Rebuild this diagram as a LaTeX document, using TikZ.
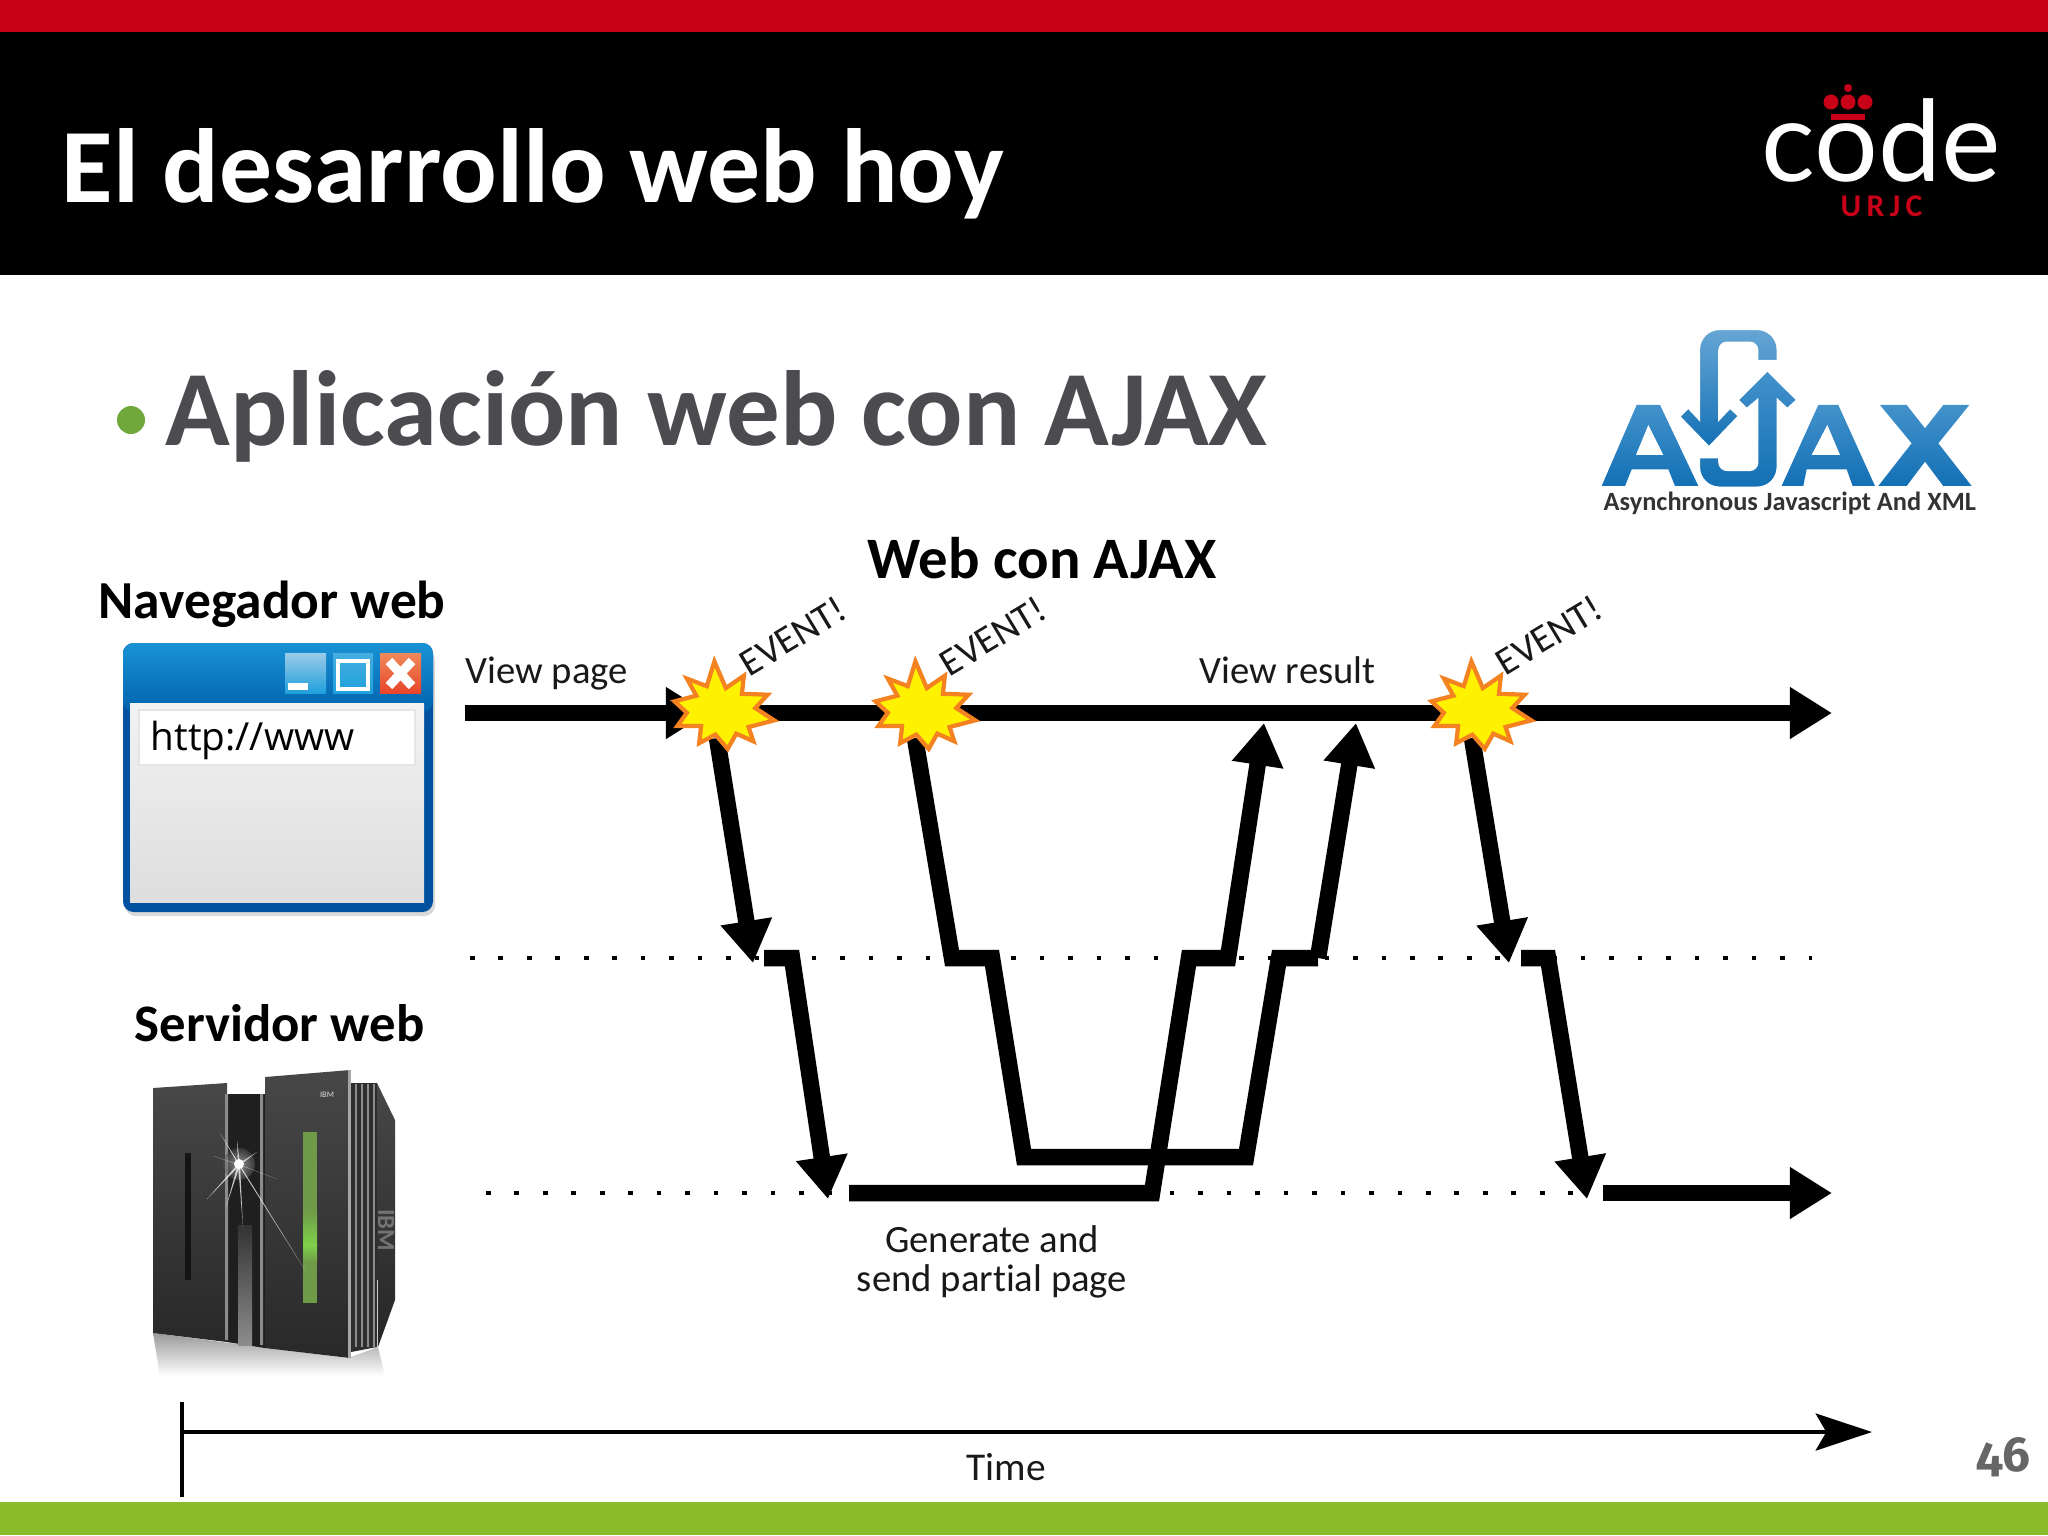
\documentclass[tikz,border=0pt]{standalone}
\usepackage{fontspec}
\setmainfont[Ligatures=NoCommon]{Carlito}
\newfontfamily\browserfont{Open Sans}
\newfontfamily\logofont{Lato}
\newfontfamily\pagefont[Numbers=OldStyle]{Fira Sans}
\usepackage{tikz}
\usetikzlibrary{calc, arrows.meta}

\definecolor{urjcred}{HTML}{C80018}
\definecolor{barblue}{HTML}{0052A0}
\definecolor{ajaxblue}{HTML}{1476BE}
\definecolor{slidegreen}{HTML}{8ABB2A}
\definecolor{slidegrey}{HTML}{4B4B50}
\definecolor{bulletgreen}{HTML}{70A83C}
\definecolor{starorange}{HTML}{F58220}
\definecolor{staryellow}{HTML}{FFF200}
\definecolor{wintop}{HTML}{1A92D4}
\definecolor{winbot}{HTML}{0062AE}
\definecolor{mintop}{HTML}{9CCBE8}
\definecolor{btnbot}{HTML}{1FA0DC}
\definecolor{maxtop}{HTML}{45AEE0}
\definecolor{closetop}{HTML}{EF8A5A}
\definecolor{closebot}{HTML}{E8452A}
\definecolor{ledgreen}{HTML}{6F9A48}
\definecolor{ledbright}{HTML}{7FD04A}

\tikzset{
    txt/.style={inner sep=0pt, anchor=base west},
    flowtext/.style={inner sep=0pt, text=black!90, font=\fontsize{11pt}{11pt}\selectfont},
    headtext/.style={txt, font=\fontsize{15.2pt}{16pt}\selectfont\bfseries},
    eventtext/.style={flowtext, rotate=31, font=\fontsize{11pt}{11pt}\selectfont},
    flow/.style={line width=4.7pt, -{Triangle[length=12pt,width=14pt]}},
    flowline/.style={line width=4.7pt},
    dotline/.style={line width=1.3pt, dash pattern=on 1.3pt off 6.8pt},
    ajaxpart/.style={top color=ajaxblue!80!white, bottom color=ajaxblue!95!black},
    panel/.style={top color=black!72, middle color=black!58, bottom color=black!84},
    eventstar/.pic={
        \filldraw[fill=staryellow, draw=starorange, line width=1.2pt, miter limit=8, scale=0.95]
            (-8,-49) -- (4,-21) -- (23,-34) -- (21,-15) -- (48,-14) -- (35,0) -- (55,13) -- (28,20)
            -- (33,35) -- (15,27) -- (6,43) -- (-7,28) -- (-24,37) -- (-22,19) -- (-47,19)
            -- (-37,5) -- (-50,-7) -- (-27,-13) -- (-37,-31) -- (-16,-23) -- cycle;
    }
}

\begin{document}
\begin{tikzpicture}[x=0.01cm, y=-0.01cm]
    \useasboundingbox (0,0) rectangle (2048,1535);
    \fill[white] (0,0) rectangle (2048,1535);

    \fill[urjcred] (0,0) rectangle (2048,32);
    \fill[black] (0,32) rectangle (2048,275);
    \fill[slidegreen] (0,1502) rectangle (2048,1535);

    \node[txt, text=white, font=\fontsize{30pt}{32pt}\selectfont\bfseries] (title) at (61,202) {El desarrollo web hoy};

    \fill[urjcred] (1848,88) circle (4);
    \fill[urjcred] (1831,102) circle (7.5) (1848,102) circle (7.5) (1865,102) circle (7.5);
    \fill[urjcred] (1831,114) rectangle (1865,120);
    \node[txt, text=white, font=\fontsize{32pt}{33pt}\logofont] (code) at (1761,181) {code};
    \node[txt, text=urjcred, font=\fontsize{9pt}{9pt}\bfseries] (urjc) at (1840,216) {U\,R\,J\,C};

    \fill[bulletgreen] (131,420) circle (14);
    \node[txt, text=slidegrey, font=\fontsize{30.4pt}{32pt}\selectfont\bfseries] (bullet) at (165,445) {Aplicación web con AJAX};

    \begin{scope}[shift={(1560,60)}, scale=0.3333]
        \shade[ajaxpart] (125,1278) -- (230,1035) -- (300,1035) -- (415,1278) -- (345,1278) -- (325,1228)
            -- (215,1228) -- (195,1278) -- cycle;
        \fill[white] (228,1185) -- (265,1095) -- (310,1185) -- cycle;
        \shade[ajaxpart] (665,1278) -- (775,1035) -- (835,1035) -- (945,1278) -- (878,1278) -- (860,1228)
            -- (740,1228) -- (730,1278) -- cycle;
        \fill[white] (755,1185) -- (802,1095) -- (840,1185) -- cycle;
        \shade[ajaxpart] (960,1035) -- (1040,1035) -- (1095,1105) -- (1150,1035) -- (1228,1035) -- (1135,1150)
            -- (1235,1278) -- (1150,1278) -- (1095,1205) -- (1040,1278) -- (955,1278) -- (1055,1150) -- cycle;
        \shade[ajaxpart, draw=white, line width=1pt] (415,1190) [rounded corners=6pt] -- (415,1285) -- (655,1285) [sharp corners]
            -- (655,1025) -- (682,1050) -- (715,1020) -- (622,928) -- (530,1020) -- (560,1050) -- (590,1025)
            [rounded corners=2pt] -- (590,1228) -- (480,1228) [sharp corners] -- (480,1190) -- cycle;
        \shade[ajaxpart, top color=ajaxblue!65!white, draw=white, line width=1pt] (415,1072) [rounded corners=6pt] -- (415,805) -- (655,805) [sharp corners]
            -- (655,905) -- (590,905) [rounded corners=2pt] -- (590,850) -- (480,850) [sharp corners] -- (480,1072)
            -- (510,1040) -- (540,1068) -- (447,1165) -- (355,1070) -- (385,1040) -- cycle;
    \end{scope}
    \node[txt, text=black!80, font=\fontsize{7.5pt}{9pt}\selectfont\bfseries] (ajax) at (1603,510) {Asynchronous Javascript And XML};

    \node[headtext, font=\fontsize{16.7pt}{17pt}\selectfont\bfseries] (webajax) at (867,578) {Web con AJAX};
    \node[headtext] (navegador) at (98,618) {Navegador web};
    \node[headtext, font=\fontsize{15pt}{16pt}\selectfont\bfseries] (servidor) at (134,1041) {Servidor web};

    % browser window
    \fill[black!15, rounded corners=3pt] (125,650) rectangle (435,916);
    \fill[barblue, rounded corners=3pt] (123,643) rectangle (433,912);
    \shade[top color=wintop, bottom color=winbot, rounded corners=3pt] (123,643) rectangle (433,712);
    \shade[top color=black!5, bottom color=black!13] (130,703) rectangle (424,902);
    \fill[white, draw=black!10] (139,710) rectangle (415,765);
    \node[txt, font=\fontsize{11pt}{13pt}\browserfont] (url) at (150,750) {http://www};
    \shade[top color=mintop, bottom color=btnbot] (285,653) rectangle (326,693);
    \fill[white] (288,683) rectangle (308,690);
    \shade[top color=maxtop, bottom color=btnbot] (333,653) rectangle (373,693);
    \draw[white, line width=1.3pt] (338,661) rectangle (368,689);
    \shade[top color=closetop, bottom color=closebot] (380,653) rectangle (421,693);
    \draw[white, line width=2.6pt] (389,661) -- (412,686) (412,661) -- (389,686);

    % server
    \shade[top color=black!40, bottom color=white] (153,1333) -- (222,1342) -- (348,1358) -- (378,1347) -- (385,1376) -- (160,1376) -- cycle;
    \shade[panel] (153,1088) -- (227,1083) -- (227,1342) -- (153,1333) -- cycle;
    \fill[black!88] (227,1094) -- (265,1094) -- (265,1348) -- (227,1342) -- cycle;
    \shade[top color=black!80, bottom color=black!45] (238,1225) rectangle (252,1345);
    \fill[black!45] (225,1094) rectangle (228,1340) (260,1094) rectangle (263,1345);
    \shade[panel] (265,1077) -- (350,1070) -- (350,1358) -- (265,1348) -- cycle;
    \fill[black!35] (348,1070) rectangle (351,1358);
    \fill[black!92] (185,1153) rectangle (191,1280);
    \fill[black!82] (351,1083) -- (377,1083) -- (377,1347) -- (351,1352) -- cycle;
    \foreach \fx in {355,361,367,373}
        \fill[black!45] (\fx,1084) rectangle (\fx+1.5,1347);
    \shade[top color=black!72, bottom color=black!85] (377,1083) -- (395,1120) -- (395,1300) -- (378,1347) -- cycle;
    \fill[ledgreen] (303,1132) rectangle (317,1303);
    \shade[top color=ledgreen, bottom color=ledbright] (303,1210) rectangle (317,1245);
    \shade[top color=ledbright, bottom color=ledgreen] (303,1245) rectangle (317,1262);
    \node[inner sep=0pt, text=black!15, font=\fontsize{2.4pt}{3pt}\selectfont] (ibmtop) at (327,1095) {IBM};
    \node[inner sep=0pt, text=black!55, rotate=-90, font=\fontsize{7pt}{8pt}\selectfont\bfseries] (ibmside) at (386,1230) {IBM};
    \shade[inner color=white, outer color=black!70, opacity=0.5] (239,1164) circle (16);
    \foreach \rx/\ry in {220/1133,213/1156,207/1199,226/1207,243/1227,305/1270,277/1179,257/1152,237/1140}
        \fill[white, opacity=0.75] (238,1164) -- (\rx,\ry) -- (240,1165) -- cycle;
    \fill[white] (239,1164) circle (5);

    % timelines
    \draw[dotline] (470,958) -- (1812,958);
    \draw[dotline] (486,1193) -- (1583,1193);

    \coordinate (browserA) at (465,713);
    \coordinate (browserB) at (708,713);
    \coordinate (browserC) at (745,713);
    \coordinate (browserD) at (1832,713);
    \coordinate (serverA) at (849,1193);
    \coordinate (serverB) at (1152,1193);
    \coordinate (serverC) at (1603,1193);
    \coordinate (serverD) at (1832,1193);
    \draw[flow] (browserA) -- (browserB);
    \draw[flow] (browserC) -- (browserD);

    \coordinate (e1) at (722,708);
    \coordinate (e2) at (923,708);
    \coordinate (e3) at (1479,708);

    \draw[flow] ([shift={(-5,30)}]e1) -- (753,963);
    \draw[flow] (764,958) -- (792,958) -- (828,1199);
    \draw[flow] (serverA) -- (serverB) -- (1189,958) -- (1228,958) -- (1264,723);
    \draw[flowline] ([shift={(-8,30)}]e2) -- (952,958) -- (992,958) -- (1024,1157) -- (1246,1157) -- (1279,958) -- (1318,958) coordinate (upB);
    \draw[flow] (upB) -- (1356,723);
    \draw[flow] ([shift={(-7,30)}]e3) -- (1509,963);
    \draw[flow] (1521,958) -- (1548,958) -- (1587,1199);
    \draw[flow] (serverC) -- (serverD);

    \pic at (e1) {eventstar};
    \pic at (e2) {eventstar};
    \pic at (e3) {eventstar};

    \node[eventtext] (ev1) at (793,636) {EVENT!};
    \node[eventtext] (ev2) at (993,636) {EVENT!};
    \node[eventtext] (ev3) at (1549,635) {EVENT!};

    \node[flowtext, anchor=base west] (viewpage) at (465,683) {View page};
    \node[flowtext, anchor=base west] (viewresult) at (1199,683) {View result};
    \node[flowtext, align=center] (generate) at (992,1262) {Generate and\\send partial page};

    \coordinate (timeA) at (182,1402);
    \coordinate (timeB) at (182,1497);
    \coordinate (timeC) at (182,1432);
    \coordinate (timeD) at (1872,1432);
    \draw[line width=1.3pt] (timeA) -- (timeB);
    \draw[line width=1.25pt, -{Stealth[length=16pt,width=10.5pt,inset=3pt]}] (timeC) -- (timeD);
    \node[flowtext, font=\fontsize{11.2pt}{12pt}\selectfont] (time) at (1006,1467) {Time};

    \node[txt, text=black!60, font=\fontsize{14pt}{15pt}\pagefont\bfseries] (pagenum) at (1976,1471) {46};
\end{tikzpicture}
\end{document}
